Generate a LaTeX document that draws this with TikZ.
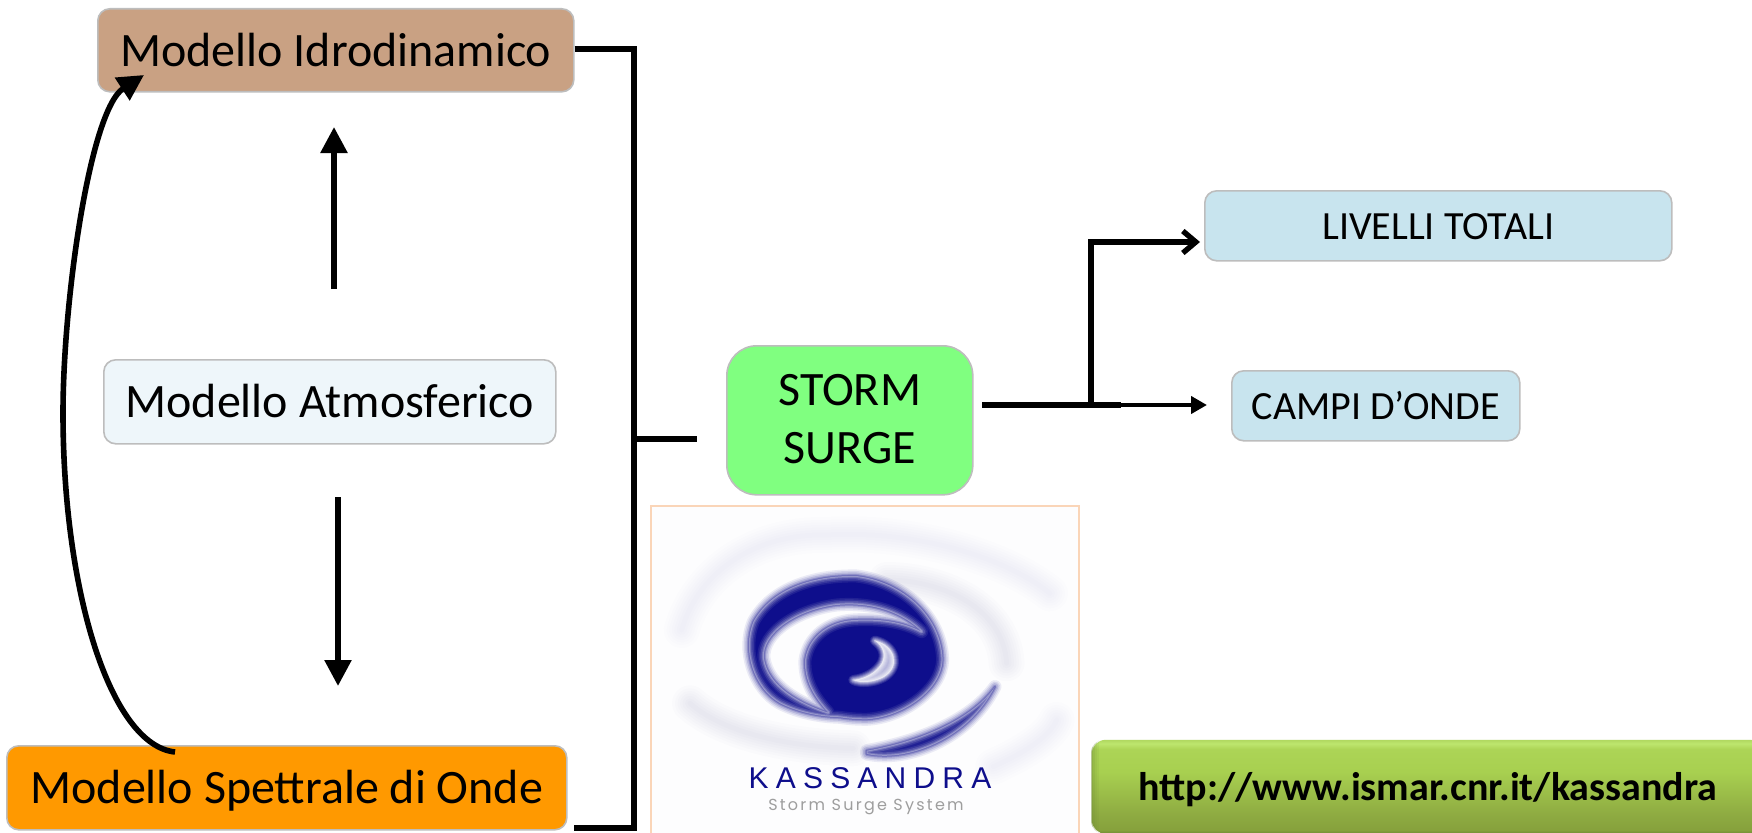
\documentclass[tikz,border=0pt]{standalone}
\usepackage{fontspec}
\setmainfont{Carlito}
\newfontfamily\kassfont[LetterSpace=24]{Liberation Sans}
\newfontfamily\stormfont[LetterSpace=14]{Poppins}
\usetikzlibrary{arrows.meta}
\definecolor{edgegrey}{HTML}{BDBDBD}
\definecolor{idrocol}{HTML}{C9A183}
\definecolor{atmocol}{HTML}{EEF6FA}
\definecolor{spetcol}{HTML}{FF9900}
\definecolor{stormcol}{HTML}{80FF80}
\definecolor{outcol}{HTML}{C8E4EE}
\definecolor{navyspin}{HTML}{0E0E8C}
\definecolor{webedge}{HTML}{6E8A36}
\definecolor{weblow}{HTML}{86A13C}
\definecolor{webmidlow}{HTML}{8FAC42}
\definecolor{webmid}{HTML}{A8D050}
\definecolor{webhigh}{HTML}{ACD456}
\definecolor{webglow}{HTML}{BDE66E}
\definecolor{webtop}{HTML}{B0D860}
\definecolor{peach}{HTML}{FAD5B8}
\definecolor{logopaper}{HTML}{FDFDFE}
\pgfdeclareverticalshading{webshade}{100bp}{
  color(0bp)=(webedge); color(25bp)=(webedge); color(27bp)=(weblow); color(36bp)=(webmidlow);
  color(58bp)=(webmid); color(70bp)=(webhigh); color(73bp)=(webglow); color(75bp)=(webtop); color(100bp)=(webtop)}
\tikzset{
  modelbox/.style={draw=edgegrey,line width=1.6pt,rounded corners=12pt,inner sep=0pt,align=center,anchor=north west,font=\fontsize{48}{58}\selectfont,text height=42pt,text depth=10pt},
  outbox/.style={modelbox,font=\fontsize{40}{48}\selectfont,text height=36pt,text depth=8pt},
  sized/.style 2 args={minimum width=#1pt,minimum height=#2pt},
  link/.style={line width=5.6pt,black},
  thinlink/.style={line width=5.4pt,black},
  solidhead/.style={-{Triangle[length=26pt,width=26pt]}},
  smallhead/.style={-{Triangle[length=16pt,width=17pt]}},
  openhead/.style={-{Straight Barb[length=13pt,width=22pt,line width=5.4pt]}},
}
% a navy shape with soft edges: halo outside, solid fill, paper-coloured fade inside
\newcommand{\softshape}[1]{%
  \foreach \w/\o in {13/.08,10/.1,7/.14,4/.2,2/.25}{
    \path[draw=navyspin,line width=\w pt,line join=round,opacity=\o] #1;
  }
  \path[fill=navyspin,even odd rule] #1;
  \begin{scope}[even odd rule]
    \clip #1;
    \foreach \w/\o in {13/.08,10/.1,7/.14,4/.2,2/.25}{
      \path[draw=logopaper,line width=\w pt,line join=round,opacity=\o] #1;
    }
  \end{scope}}
\begin{document}
\begin{tikzpicture}[x=1pt,y=-1pt]
\useasboundingbox (0,0) rectangle (1752,832);
\clip (0,0) rectangle (1752,832);
\fill[white] (0,0) rectangle (1752,832);

% logo
\fill[logopaper] (652,507) rectangle (1078,840);
\draw[draw=peach,line width=2.4pt] (651,840) -- (651,506) -- (1079,506) -- (1079,840);
\begin{scope}[shift={(640,490)},x=0.3333pt,y=-0.3333pt]
  % faint outer swirls
  \foreach \w in {36,30,25,20,15,10,5}{
    \draw[navyspin,line width=\w pt,opacity=.009,line cap=round]
      (125,420) .. controls (170,260) and (330,130) .. (560,135) .. controls (800,120) and (1080,190) .. (1230,310);
    \draw[navyspin,line width=\w pt,opacity=.012,line cap=round]
      (740,270) .. controls (900,270) and (1090,350) .. (1100,520);
    \draw[navyspin,line width=\w pt,opacity=.01,line cap=round]
      (150,640) .. controls (240,720) and (420,770) .. (640,775);
    \draw[navyspin,line width=\w pt,opacity=.006,line cap=round]
      (1060,830) .. controls (1150,790) and (1230,740) .. (1250,690);
  }
  % arm and core as one shape, with the pale gap as a hole
  \softshape{(600,682) .. controls (530,680) and (470,665) .. (420,640)
     .. controls (340,595) and (305,480) .. (340,395)
     .. controls (395,295) and (520,255) .. (650,258)
     .. controls (790,275) and (905,380) .. (908,510)
     .. controls (905,600) and (790,682) .. (680,688)
     .. controls (650,688) and (625,686) .. (600,682) -- cycle
     (845,425) .. controls (790,370) and (700,335) .. (590,345)
     .. controls (470,360) and (365,430) .. (372,505)
     .. controls (385,590) and (480,640) .. (565,668)
     .. controls (520,620) and (492,570) .. (495,510)
     .. controls (505,440) and (565,395) .. (640,390)
     .. controls (720,385) and (790,395) .. (845,425) -- cycle}
  % lower-right arm
  \softshape{(680,792) .. controls (800,818) and (985,750) .. (1065,590)
     .. controls (1000,680) and (860,750) .. (680,782) -- cycle}
  % light crescent inside the core
  \foreach \w/\o in {10/.12,8/.15,6/.2,4/.25,2/.35}{
    \path[fill=white,draw=white,line width=\w pt,line join=round,opacity=\o]
      (705,452) .. controls (765,465) and (785,530) .. (730,562) .. controls (700,578) and (660,580) .. (640,570)
      .. controls (680,565) and (710,545) .. (725,520) .. controls (738,495) and (730,470) .. (705,452) -- cycle;
  }
  \node[anchor=base,text=navyspin,inner sep=0pt,font=\kassfont\fontsize{30}{30}\selectfont] (kass) at (690,895) {KASSANDRA};
  \node[anchor=base,text=black!38,inner sep=0pt,font=\stormfont\fontsize{16}{16}\selectfont] (sss) at (678,963) {Storm Surge System};
\end{scope}

% model boxes
\node[modelbox,fill=idrocol,sized={476}{83}] (idro) at (97,8) {Modello Idrodinamico};
\node[modelbox,fill=atmocol,sized={452}{84}] (atmo) at (103,359) {Modello Atmosferico};
\node[modelbox,fill=spetcol,sized={560}{84}] (spet) at (6,745) {Modello Spettrale di Onde};
\node[modelbox,fill=stormcol,rounded corners=30pt,text height=97pt,text depth=10pt,sized={246}{149}] (storm) at (726,345) {STORM\\SURGE};
\node[outbox,fill=outcol,sized={467}{70}] (liv) at (1204,190) {LIVELLI TOTALI};
\node[outbox,fill=outcol,sized={288}{70}] (campi) at (1231,370) {CAMPI D’ONDE};

% web address
\node[outbox,draw=none,shading=webshade,rounded corners=14pt,sized={672}{94},font=\fontsize{40}{48}\selectfont\bfseries] (web) at (1091,739) {http://www.ismar.cnr.it/kassandra};
\begin{scope}
  \clip[rounded corners=14pt] (web.north west) rectangle (web.south east);
  \foreach \dx/\o in {1/.45,3/.32,5/.2,7/.1}{
    \fill[webedge,opacity=\o] ([xshift=\dx pt-1pt]web.north west) rectangle ([xshift=\dx pt+1pt]web.south west);
  }
\end{scope}

% coordinates for the free ends
\coordinate (brtop) at (634,49);
\coordinate (brbot) at (634,828);
\coordinate (brfoot) at (574,828);
\coordinate (brmid) at (634,439);
\coordinate (brstub) at (697,439);
\coordinate (uptail) at (334,289);
\coordinate (uphead) at (334,127);
\coordinate (dntail) at (338,497);
\coordinate (dnhead) at (338,686);
\coordinate (outstart) at (982,405);
\coordinate (outjoin) at (1091,405);
\coordinate (outmid) at (1121,405);
\coordinate (outcampi) at (1207,405);
\coordinate (outbend) at (1091,242);
\coordinate (outliv) at (1200,242);
\coordinate (curvestart) at (175,752);
\coordinate (curvemid) at (63,413);
\coordinate (curveend) at (144,75);

% bracket
\draw[link,line join=miter] (idro.east |- brtop) -- (brtop) -- (brbot) -- (brfoot);
\draw[link] (brmid) -- (brstub);
% atmosphere arrows
\draw[link,solidhead] (uptail) -- (uphead);
\draw[link,solidhead] (dntail) -- (dnhead);
% curved arrow
\draw[link,solidhead] (curvestart) .. controls (110,745) and (63,590) .. (curvemid) .. controls (63,300) and (90,110) .. (curveend);
% outputs
\draw[line width=6pt] (outstart) -- (outmid);
\draw[line width=4.2pt,smallhead] (outmid) -- (outcampi);
\draw[thinlink,line join=miter] (outjoin) -- (outbend);
\draw[thinlink,openhead] ([xshift=-2.7pt]outbend) -- (outliv);
\end{tikzpicture}
\end{document}
